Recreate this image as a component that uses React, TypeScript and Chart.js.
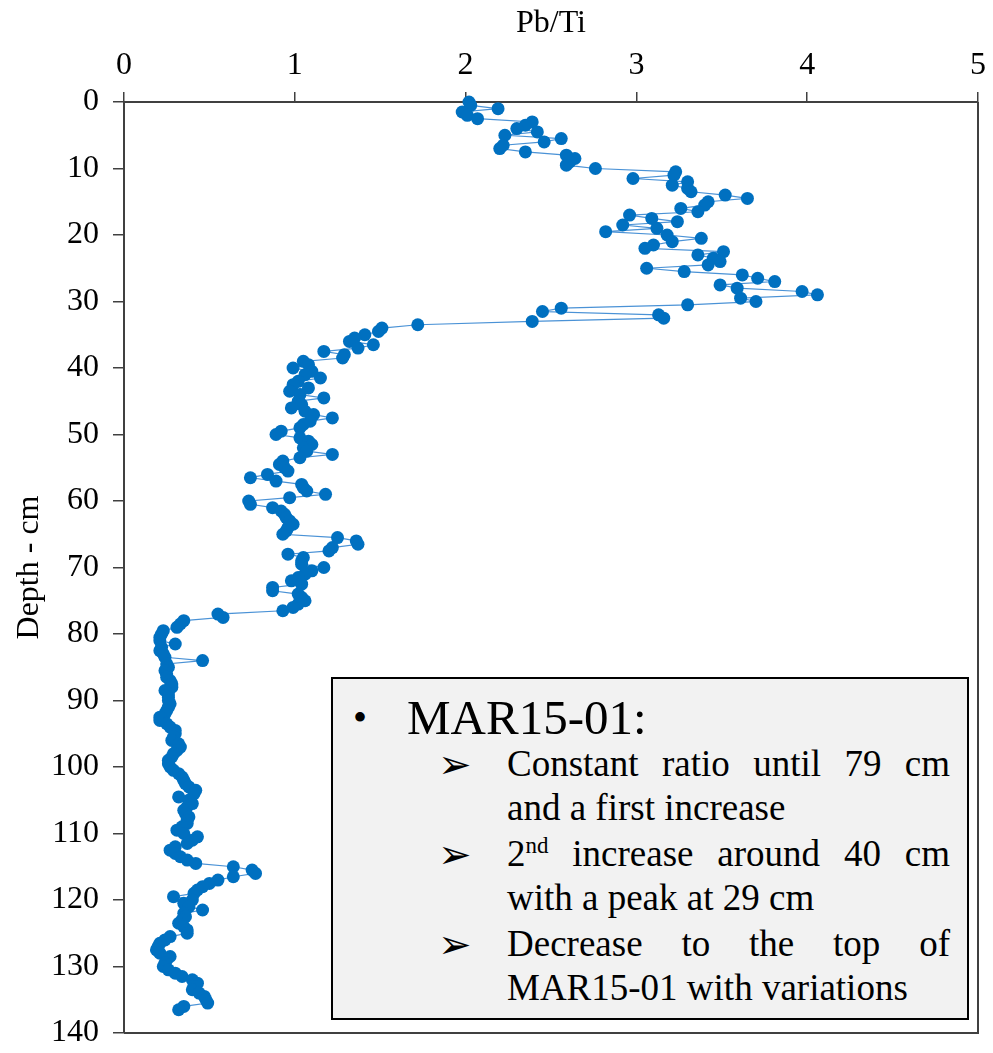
import { useEffect, useRef } from 'react';
import { Chart, registerables } from 'chart.js';

Chart.register(...registerables);

// Core depth below the top of MAR15-01 (cm), sampled every 0.5 cm
const depthCm = [
  0, 0.5, 1, 1.5, 2, 2.5, 3, 3.5, 4, 4.5,
  5, 5.5, 6, 6.5, 7, 7.5, 8, 8.5, 9, 9.5,
  10, 10.5, 11, 11.5, 12, 12.5, 13, 13.5, 14, 14.5,
  15, 15.5, 16, 16.5, 17, 17.5, 18, 18.5, 19, 19.5,
  20, 20.5, 21, 21.5, 22, 22.5, 23, 23.5, 24, 24.5,
  25, 25.5, 26, 26.5, 27, 27.5, 28, 28.5, 29, 29.5,
  30, 30.5, 31, 31.5, 32, 32.5, 33, 33.5, 34, 34.5,
  35, 35.5, 36, 36.5, 37, 37.5, 38, 38.5, 39, 39.5,
  40, 40.5, 41, 41.5, 42, 42.5, 43, 43.5, 44, 44.5,
  45, 45.5, 46, 46.5, 47, 47.5, 48, 48.5, 49, 49.5,
  50, 50.5, 51, 51.5, 52, 52.5, 53, 53.5, 54, 54.5,
  55, 55.5, 56, 56.5, 57, 57.5, 58, 58.5, 59, 59.5,
  60, 60.5, 61, 61.5, 62, 62.5, 63, 63.5, 64, 64.5,
  65, 65.5, 66, 66.5, 67, 67.5, 68, 68.5, 69, 69.5,
  70, 70.5, 71, 71.5, 72, 72.5, 73, 73.5, 74, 74.5,
  75, 75.5, 76, 76.5, 77, 77.5, 78, 78.5, 79, 79.5,
  80, 80.5, 81, 81.5, 82, 82.5, 83, 83.5, 84, 84.5,
  85, 85.5, 86, 86.5, 87, 87.5, 88, 88.5, 89, 89.5,
  90, 90.5, 91, 91.5, 92, 92.5, 93, 93.5, 94, 94.5,
  95, 95.5, 96, 96.5, 97, 97.5, 98, 98.5, 99, 99.5,
  100, 100.5, 101, 101.5, 102, 102.5, 103, 103.5, 104, 104.5,
  105, 105.5, 106, 106.5, 107, 107.5, 108, 108.5, 109, 109.5,
  110, 110.5, 111, 111.5, 112, 112.5, 113, 113.5, 114, 114.5,
  115, 115.5, 116, 116.5, 117, 117.5, 118, 118.5, 119, 119.5,
  120, 120.5, 121, 121.5, 122, 122.5, 123, 123.5, 124, 124.5,
  125, 125.5, 126, 126.5, 127, 127.5, 128, 128.5, 129, 129.5,
  130, 130.5, 131, 131.5, 132, 132.5, 133, 133.5, 134, 134.5,
  135, 135.5, 136, 136.5,
];

// Pb/Ti ratio at each depth
const pbTi = [
  2.02, 2.03, 2.19, 1.98, 2.01, 2.07, 2.39, 2.35, 2.30, 2.42,
  2.23, 2.56, 2.46, 2.22, 2.20, 2.35, 2.59, 2.64, 2.61, 2.59,
  2.76, 3.23, 3.22, 2.98, 3.30, 3.21, 3.30, 3.32, 3.52, 3.65,
  3.42, 3.40, 3.26, 3.36, 2.96, 3.09, 3.24, 2.92, 3.12, 2.82,
  3.18, 3.38, 3.21, 3.10, 3.05, 3.51, 3.36, 3.45, 3.49, 3.42,
  3.06, 3.28, 3.62, 3.71, 3.81, 3.49, 3.59, 3.97, 4.06, 3.61,
  3.70, 3.30, 2.56, 2.45, 3.13, 3.16, 2.39, 1.72, 1.51, 1.49,
  1.41, 1.35, 1.32, 1.46, 1.37, 1.17, 1.29, 1.28, 1.05, 1.08,
  0.99, 1.10, 1.06, 1.15, 1.02, 0.99, 1.08, 0.97, 1.03, 1.17,
  1.02, 1.04, 0.98, 1.06, 1.11, 1.22, 1.09, 1.05, 1.03, 0.92,
  0.89, 1.03, 1.08, 1.10, 1.05, 1.07, 1.22, 1.03, 0.93, 0.91,
  0.94, 0.96, 0.84, 0.74, 0.89, 1.04, 1.05, 1.07, 1.18, 0.97,
  0.73, 0.74, 0.87, 0.92, 0.94, 0.95, 0.97, 0.99, 0.96, 0.95,
  0.93, 1.25, 1.36, 1.37, 1.22, 1.20, 0.96, 1.05, 1.04, 1.04,
  1.17, 1.10, 1.06, 1.02, 0.98, 1.04, 0.87, 0.87, 1.02, 1.04,
  1.06, 1.02, 0.99, 0.93, 0.55, 0.58, 0.35, 0.33, 0.31, 0.23,
  0.22, 0.21, 0.21, 0.30, 0.22, 0.21, 0.23, 0.24, 0.46, 0.25,
  0.26, 0.24, 0.25, 0.25, 0.27, 0.28, 0.28, 0.24, 0.26, 0.26,
  0.26, 0.27, 0.26, 0.25, 0.24, 0.21, 0.21, 0.25, 0.27, 0.30,
  0.30, 0.29, 0.28, 0.32, 0.33, 0.31, 0.29, 0.28, 0.26, 0.26,
  0.27, 0.29, 0.32, 0.34, 0.35, 0.36, 0.38, 0.42, 0.41, 0.32,
  0.38, 0.40, 0.37, 0.35, 0.36, 0.38, 0.37, 0.37, 0.34, 0.31,
  0.35, 0.43, 0.40, 0.37, 0.30, 0.27, 0.30, 0.33, 0.37, 0.42,
  0.64, 0.75, 0.77, 0.64, 0.55, 0.50, 0.46, 0.43, 0.41, 0.29,
  0.40, 0.35, 0.38, 0.46, 0.35, 0.36, 0.34, 0.32, 0.35, 0.37,
  0.37, 0.27, 0.24, 0.21, 0.20, 0.19, 0.21, 0.27, 0.25, 0.24,
  0.23, 0.26, 0.30, 0.34, 0.40, 0.43, 0.41, 0.40, 0.44, 0.47,
  0.48, 0.49, 0.35, 0.32,
];

const xTitle = 'Pb/Ti';
const yTitle = 'Depth - cm';

const serif = '"Liberation Serif", "Times New Roman", serif';
const axisFont = { family: serif, size: 32 };
const axisColor = '#404040';

// Closes the plot box on the right and bottom sides
const frameBox = {
  id: 'frameBox',
  afterDraw(chart: any) {
    const { ctx, chartArea } = chart;
    ctx.save();
    ctx.strokeStyle = axisColor;
    ctx.lineWidth = 2;
    ctx.beginPath();
    ctx.moveTo(chartArea.right, chartArea.top);
    ctx.lineTo(chartArea.right, chartArea.bottom);
    ctx.lineTo(chartArea.left, chartArea.bottom);
    ctx.stroke();
    ctx.restore();
  },
};

function Notes() {
  const box = { left: 331, top: 677 };
  const line = (center: number) => ({
    position: 'absolute' as const,
    top: center - box.top - 2 - 22,
    height: 44,
    lineHeight: '44px',
    whiteSpace: 'nowrap' as const,
  });
  const sub = (center: number, justify: boolean) => ({
    ...line(center),
    left: 507 - box.left - 2,
    width: 443,
    fontSize: 37,
    textAlign: (justify ? 'justify' : 'left') as any,
    textAlignLast: (justify ? 'justify' : 'left') as any,
    whiteSpace: 'normal' as const,
  });
  const arrow = (center: number) => ({
    ...line(center),
    left: 438 - box.left - 2,
    fontSize: 40,
    fontFamily: '"DejaVu Sans", sans-serif',
  });
  return (
    <div
      style={{
        position: 'absolute',
        left: box.left,
        top: box.top,
        width: 638,
        height: 343,
        boxSizing: 'border-box',
        border: '2px solid #000',
        background: '#f2f2f2',
        fontFamily: serif,
        color: '#000',
      }}
    >
      <div style={{ ...line(718), left: 20, fontSize: 40 }}>•</div>
      <div style={{ ...line(718), left: 407 - box.left - 2, fontSize: 49 }}>MAR15-01:</div>

      <div style={arrow(764)}>➢</div>
      <div style={sub(764, true)}>Constant ratio until 79 cm</div>
      <div style={sub(808, false)}>and a first increase</div>

      <div style={arrow(854)}>➢</div>
      <div style={sub(854, true)}>
        2<sup style={{ fontSize: '0.62em', lineHeight: 0, verticalAlign: '0.55em' }}>nd</sup> increase around 40 cm
      </div>
      <div style={sub(898, false)}>with a peak at 29 cm</div>

      <div style={arrow(944)}>➢</div>
      <div style={sub(944, true)}>Decrease to the top of</div>
      <div style={sub(988, false)}>MAR15-01 with variations</div>
    </div>
  );
}

export default function App() {
  const canvasRef = useRef<HTMLCanvasElement>(null);

  useEffect(() => {
    const points = depthCm.map((d, i) => ({ x: pbTi[i], y: d }));
    const chart = new Chart(canvasRef.current as HTMLCanvasElement, {
      type: 'scatter',
      data: {
        datasets: [
          {
            data: points,
            showLine: true,
            borderColor: '#4a92d6',
            borderWidth: 1.2,
            pointBackgroundColor: '#0070C0',
            pointBorderColor: '#0070C0',
            pointBorderWidth: 0,
            pointRadius: 6.5,
            clip: false as any,
          },
        ],
      },
      options: {
        animation: false,
        responsive: false,
        devicePixelRatio: 1,
        layout: { padding: { left: 0, top: 0, right: 15, bottom: 20 } },
        plugins: { legend: { display: false }, tooltip: { enabled: false } },
        scales: {
          x: {
            type: 'linear',
            position: 'top',
            min: 0,
            max: 5,
            ticks: { stepSize: 1, font: axisFont, color: '#000', padding: 7 },
            grid: { drawOnChartArea: false, drawTicks: true, tickLength: 10, color: axisColor, lineWidth: 1.5 },
            border: { display: true, color: axisColor, width: 2 },
            title: { display: true, text: xTitle, font: axisFont, color: '#000', padding: { top: 4, bottom: 0 } },
            afterFit: (s: any) => {
              s.height = 102;
              s.paddingLeft = 0;
              s.paddingRight = 0;
            },
          },
          y: {
            type: 'linear',
            reverse: true,
            min: 0,
            max: 140,
            ticks: { stepSize: 10, font: axisFont, color: '#000', padding: 14 },
            grid: { drawOnChartArea: false, drawTicks: true, tickLength: 11, color: axisColor, lineWidth: 1.5 },
            border: { display: true, color: axisColor, width: 2 },
            title: { display: true, text: yTitle, font: axisFont, color: '#000', padding: { top: 10, bottom: 0 } },
            afterFit: (s: any) => {
              s.width = 124;
              s.paddingTop = 0;
              s.paddingBottom = 0;
            },
          },
        },
      },
      plugins: [frameBox],
    });
    return () => chart.destroy();
  }, []);

  return (
    <div style={{ position: 'absolute', left: 0, top: 0, width: 993, height: 1053, background: '#fff' }}>
      <canvas ref={canvasRef} width={993} height={1053} style={{ display: 'block', width: 993, height: 1053 }} />
      <Notes />
    </div>
  );
}
